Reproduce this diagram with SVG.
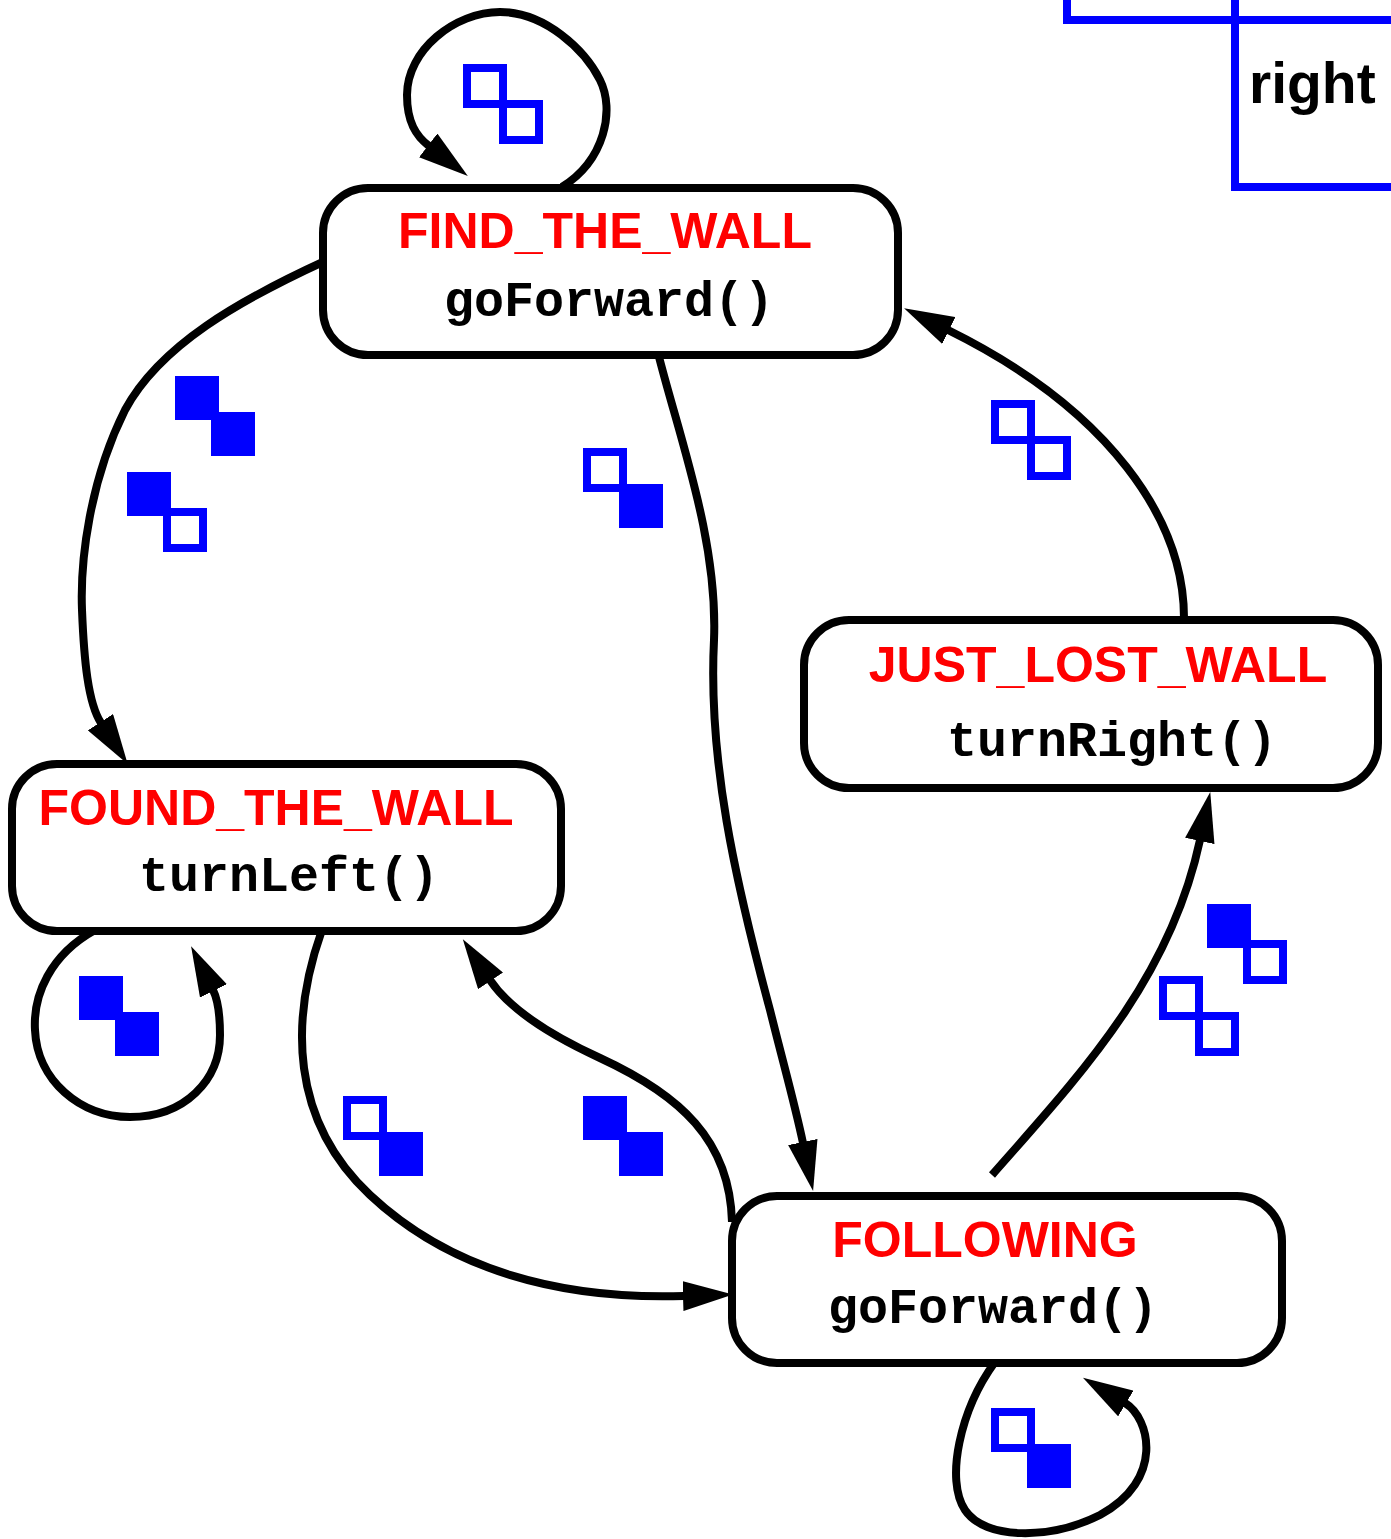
<svg xmlns="http://www.w3.org/2000/svg" width="1391" height="1539" viewBox="0 0 1391 1539">
  <style>
    .box { fill: #fff; stroke: #000; stroke-width: 8; }
    .title { font-family: "Liberation Sans", Arial, sans-serif; font-weight: bold; font-size: 50px; fill: #f00; text-anchor: middle; }
    .code { font-family: "Liberation Mono", "Courier New", monospace; font-weight: bold; font-size: 50px; fill: #000; text-anchor: middle; }
    .edge { fill: none; stroke: #000; stroke-width: 8; stroke-linecap: butt; stroke-linejoin: round; marker-end: url(#head); }
    .sf { fill: #00f; }
    .so { fill: none; stroke: #00f; stroke-width: 8; }
    .legend-line { fill: none; stroke: #00f; stroke-width: 8; stroke-linejoin: miter; }
    .legend-text { font-family: "Liberation Sans", Arial, sans-serif; font-weight: bold; font-size: 57px; fill: #000; }
  </style>
  <defs>
    <marker id="head" markerUnits="userSpaceOnUse" viewBox="0 0 50 30" refX="1" refY="15" markerWidth="50" markerHeight="30" orient="auto">
      <path d="M0,0 L50,15 L0,30 Z" fill="#000"/>
    </marker>
    <!-- sensor squares: filled / outlined, 44px outer size -->
    <rect id="sq-f" class="sf" x="0" y="0" width="44" height="44"/>
    <rect id="sq-o" class="so" x="4" y="4" width="36" height="36"/>
  </defs>

  <rect width="1391" height="1539" fill="#fff"/>

  <!-- legend fragment, top right -->
  <g id="legend">
    <path class="legend-line" d="M1067,0 V20 H1391"/>
    <path class="legend-line" d="M1235,0 V187 H1391"/>
    <text class="legend-text" x="1249" y="103">right</text>
  </g>

  <!-- transitions -->
  <g id="connectors">
    <!-- FIND_THE_WALL self loop -->
    <path class="edge" d="M562,187 C605,160 615,110 600,80 C585,50 545,12 500,12 C455,12 407,50 407,95 C407,122 416,136 429,146"/>
    <!-- FIND_THE_WALL to FOUND_THE_WALL -->
    <path class="edge" d="M325,261 C240,300 160,345 125,410 C90,480 80,560 82,610 C84,660 88,703 101,723"/>
    <!-- FIND_THE_WALL to FOLLOWING -->
    <path class="edge" d="M658,353 C680,440 718,540 714,640 C708,760 735,880 770,1010 C785,1070 795,1105 803,1143"/>
    <!-- JUST_LOST_WALL to FIND_THE_WALL -->
    <path class="edge" d="M1184,618 C1184,520 1110,410 948,330"/>
    <!-- FOLLOWING to JUST_LOST_WALL -->
    <path class="edge" d="M992,1175 C1080,1075 1170,980 1200,840"/>
    <!-- FOUND_THE_WALL to FOLLOWING -->
    <path class="edge" d="M322,930 C290,1020 290,1120 370,1195 C450,1270 560,1300 684,1296"/>
    <!-- FOLLOWING to FOUND_THE_WALL -->
    <path class="edge" d="M732,1222 C730,1140 680,1095 600,1058 C550,1035 510,1010 490,980"/>
    <!-- FOUND_THE_WALL self loop -->
    <path class="edge" d="M95,930 C50,955 33,995 35,1030 C37,1080 80,1117 130,1117 C185,1117 220,1080 220,1035 C220,1015 218,1000 213,990"/>
    <!-- FOLLOWING self loop -->
    <path class="edge" d="M995,1362 C960,1410 945,1480 965,1510 C985,1540 1050,1540 1100,1515 C1165,1480 1150,1418 1125,1403"/>
  </g>

  <!-- guard conditions: pairs of sensor squares -->
  <g id="guards">
    <g transform="translate(463,64)"><use href="#sq-o"/><use href="#sq-o" x="36" y="36"/></g>
    <g transform="translate(175,376)"><use href="#sq-f"/><use href="#sq-f" x="36" y="36"/></g>
    <g transform="translate(127,472)"><use href="#sq-f"/><use href="#sq-o" x="36" y="36"/></g>
    <g transform="translate(583,448)"><use href="#sq-o"/><use href="#sq-f" x="36" y="36"/></g>
    <g transform="translate(991,400)"><use href="#sq-o"/><use href="#sq-o" x="36" y="36"/></g>
    <g transform="translate(1207,904)"><use href="#sq-f"/><use href="#sq-o" x="36" y="36"/></g>
    <g transform="translate(1159,976)"><use href="#sq-o"/><use href="#sq-o" x="36" y="36"/></g>
    <g transform="translate(79,976)"><use href="#sq-f"/><use href="#sq-f" x="36" y="36"/></g>
    <g transform="translate(343,1096)"><use href="#sq-o"/><use href="#sq-f" x="36" y="36"/></g>
    <g transform="translate(583,1096)"><use href="#sq-f"/><use href="#sq-f" x="36" y="36"/></g>
    <g transform="translate(991,1408)"><use href="#sq-o"/><use href="#sq-f" x="36" y="36"/></g>
  </g>

  <!-- states -->
  <g id="find-the-wall">
    <rect class="box" x="323" y="188" width="575" height="167" rx="45"/>
    <text class="title" x="605" y="248">FIND_THE_WALL</text>
    <text class="code" x="609" y="316">goForward()</text>
  </g>
  <g id="found-the-wall">
    <rect class="box" x="12" y="764" width="549" height="167" rx="45"/>
    <text class="title" x="276" y="825">FOUND_THE_WALL</text>
    <text class="code" x="289" y="891">turnLeft()</text>
  </g>
  <g id="just-lost-wall">
    <rect class="box" x="804" y="620" width="574" height="168" rx="45"/>
    <text class="title" x="1098" y="682">JUST_LOST_WALL</text>
    <text class="code" x="1112" y="756">turnRight()</text>
  </g>
  <g id="following">
    <rect class="box" x="732" y="1196" width="550" height="167" rx="45"/>
    <text class="title" x="985" y="1257">FOLLOWING</text>
    <text class="code" x="993" y="1323">goForward()</text>
  </g>
</svg>
